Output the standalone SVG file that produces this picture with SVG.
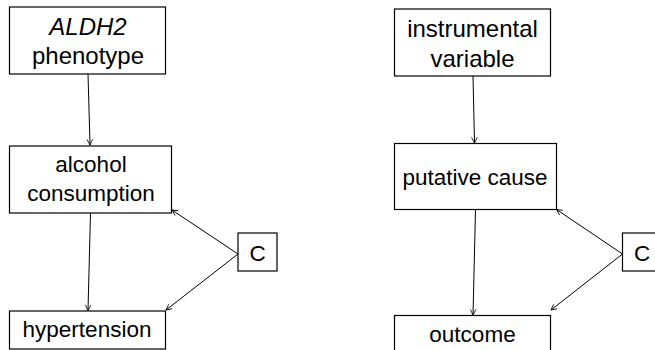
<svg xmlns="http://www.w3.org/2000/svg" width="655" height="350" viewBox="0 0 655 350">
<style>
.box{fill:#fff;stroke:#000;stroke-width:1.2}
.a{font-family:"Liberation Sans",Arial,sans-serif;font-size:24px;fill:#000;text-anchor:middle}
.c{font-family:"Liberation Sans",Arial,sans-serif;font-size:22.5px;fill:#000;text-anchor:middle}
.edge{stroke:#000;stroke-width:1;fill:none;marker-end:url(#arr)}
</style>
<defs>
<marker id="arr" viewBox="0 0 10 10" refX="9" refY="5" markerWidth="7" markerHeight="7" markerUnits="userSpaceOnUse" orient="auto">
<polyline points="1,1 9,5 1,9" fill="none" stroke="#000" stroke-width="1.2"/>
</marker>
</defs>
<rect width="655" height="350" fill="#fff"/>
<g id="aldh2">
<rect class="box" x="9.5" y="7" width="156" height="67"/>
<text class="a" x="88" y="35" font-style="italic">ALDH2</text>
<text class="a" x="88" y="64">phenotype</text>
</g>
<g id="alcohol">
<rect class="box" x="9.5" y="146" width="162" height="67"/>
<text class="c" x="91" y="172">alcohol</text>
<text class="c" x="91" y="201">consumption</text>
</g>
<g id="hypertension">
<rect class="box" x="9.5" y="311" width="156" height="38"/>
<text class="c" x="87" y="337">hypertension</text>
</g>
<g id="c1">
<rect class="box" x="238" y="233" width="39" height="38"/>
<text class="c" x="257.5" y="261">C</text>
</g>
<g id="iv">
<rect class="box" x="394.5" y="9" width="156" height="67"/>
<text class="a" x="472.5" y="37">instrumental</text>
<text class="a" x="472.5" y="67">variable</text>
</g>
<g id="cause">
<rect class="box" x="394.5" y="143.5" width="162" height="66"/>
<text class="c" x="475" y="185">putative cause</text>
</g>
<g id="outcome">
<rect class="box" x="394.5" y="315.5" width="156" height="40"/>
<text class="c" x="472.5" y="342">outcome</text>
</g>
<g id="c2">
<rect class="box" x="622.5" y="233" width="39" height="38"/>
<text class="c" x="642" y="261">C</text>
</g>
<g id="connectors">
<line class="edge" x1="88" y1="74" x2="90" y2="145"/>
<line class="edge" x1="90.5" y1="213" x2="88" y2="310.5"/>
<line class="edge" x1="238" y1="254" x2="172" y2="210"/>
<line class="edge" x1="238" y1="254" x2="166" y2="310"/>
<line class="edge" x1="473" y1="76" x2="474.5" y2="143"/>
<line class="edge" x1="475.5" y1="209.5" x2="473" y2="315"/>
<line class="edge" x1="622.5" y1="254" x2="556.5" y2="209.5"/>
<line class="edge" x1="622.5" y1="254" x2="551" y2="310"/>
</g>
</svg>
